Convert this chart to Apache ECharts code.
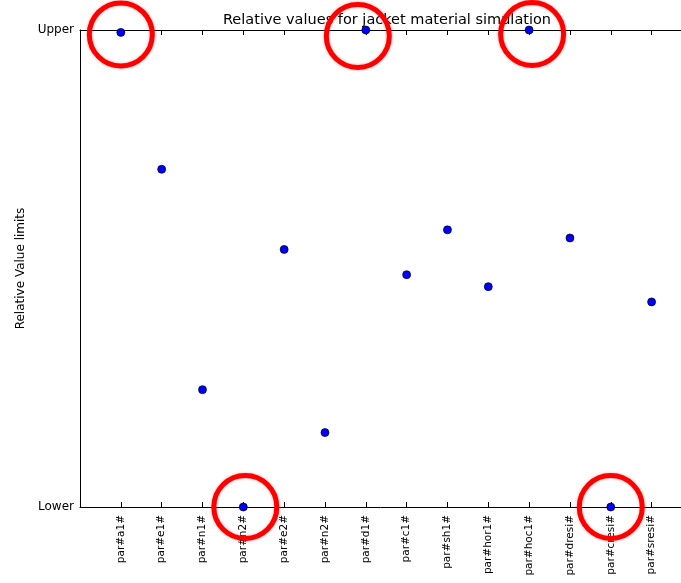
<!DOCTYPE html>
<html>
<head>
<meta charset="utf-8">
<script src="https://cdn.jsdelivr.net/npm/echarts@6/dist/echarts.min.js"></script>
<style>
html,body{margin:0;padding:0;background:#fff;}
#chart{width:681px;height:583px;}
</style>
</head>
<body>
<div id="chart"></div>
<script>
// ---- data ----
var categories = ['par#a1#','par#e1#','par#n1#','par#n2#','par#e2#','par#n2#','par#d1#','par#c1#','par#sh1#','par#hor1#','par#hoc1#','par#dresi#','par#cresi#','par#sresi#'];
var relValues = [0.995, 0.708, 0.246, 0.0, 0.540, 0.156, 1.0, 0.487, 0.581, 0.462, 1.0, 0.564, 0.0, 0.430];
var yTickLabels = ['Lower', 'Upper'];
var highlightIdx = [0, 3, 6, 10, 12];
var titleText = 'Relative values for jacket material simulation';
var yAxisName = 'Relative Value limits';

// ---- styling (axis extent visible in the frame, annotation nudges in px) ----
var xVisibleMax = categories.length + 0.72;
var circleNudge = [[0, 2], [2, 0], [-8, 6], [3, 4], [0, 0]];

var pointData = relValues.map(function (v, i) { return [i + 1, v]; });
var circleData = highlightIdx.map(function (idx, k) {
  return { value: [idx + 1, relValues[idx]], symbolOffset: circleNudge[k] };
});

var chart = echarts.init(document.getElementById('chart'), null, {renderer: 'canvas'});
var axisFont = 'DejaVu Sans';
function xLabel(v) {
  var r = Math.round(v);
  if (Math.abs(v - r) > 1e-6) return '';
  var i = r - 1;
  return (i >= 0 && i < categories.length) ? categories[i] : '';
}
var option = {
  animation: false,
  backgroundColor: '#ffffff',
  title: {
    text: titleText,
    left: 382,
    textAlign: 'center',
    top: 8,
    textStyle: {fontFamily: axisFont, fontSize: 14.5, fontWeight: 'normal', color: '#000'}
  },
  grid: {left: 80, top: 30, right: 0, bottom: 76, containLabel: false},
  xAxis: [{
    type: 'value', position: 'bottom', min: 0, max: xVisibleMax, interval: 1,
    axisLine: {show: true, onZero: false, lineStyle: {color: '#000', width: 1}},
    axisTick: {show: true, inside: true, length: 5, lineStyle: {color: '#000'}},
    splitLine: {show: false},
    axisLabel: {
      rotate: 90, margin: 8, fontFamily: axisFont, fontSize: 10.5, color: '#000',
      showMinLabel: true, showMaxLabel: true,
      formatter: xLabel
    }
  }, {
    type: 'value', position: 'top', min: 0, max: xVisibleMax, interval: 1,
    axisLine: {show: true, onZero: false, lineStyle: {color: '#000', width: 1}},
    axisTick: {show: true, inside: true, length: 5, lineStyle: {color: '#000'}},
    splitLine: {show: false},
    axisLabel: {show: false}
  }],
  yAxis: {
    type: 'value', min: 0, max: 1, interval: 1,
    name: yAxisName, nameLocation: 'middle', nameGap: 47, nameRotate: 90,
    nameTextStyle: {fontFamily: axisFont, fontSize: 12, color: '#000'},
    axisLine: {show: true, onZero: false, lineStyle: {color: '#000', width: 1}},
    axisTick: {show: true, inside: true, length: 5, lineStyle: {color: '#000'}},
    splitLine: {show: false},
    axisLabel: {
      margin: 6, fontFamily: axisFont, fontSize: 12, color: '#000',
      formatter: function (v) { return yTickLabels[Math.round(v)]; }
    }
  },
  series: [{
    type: 'scatter',
    xAxisIndex: 0,
    data: pointData,
    symbol: 'circle',
    symbolSize: 8,
    clip: true,
    itemStyle: {color: '#0000ff', borderColor: '#000', borderWidth: 0.7, opacity: 1},
    z: 3
  }, {
    type: 'scatter',
    xAxisIndex: 0,
    data: circleData,
    symbol: 'circle',
    symbolSize: 63,
    clip: false,
    silent: true,
    itemStyle: {color: 'rgba(0,0,0,0)', borderColor: '#ff0000', borderWidth: 5, opacity: 1,
      shadowBlur: 3, shadowColor: 'rgba(255,0,0,0.35)'},
    z: 10
  }]
};
chart.setOption(option);
</script>
</body>
</html>
